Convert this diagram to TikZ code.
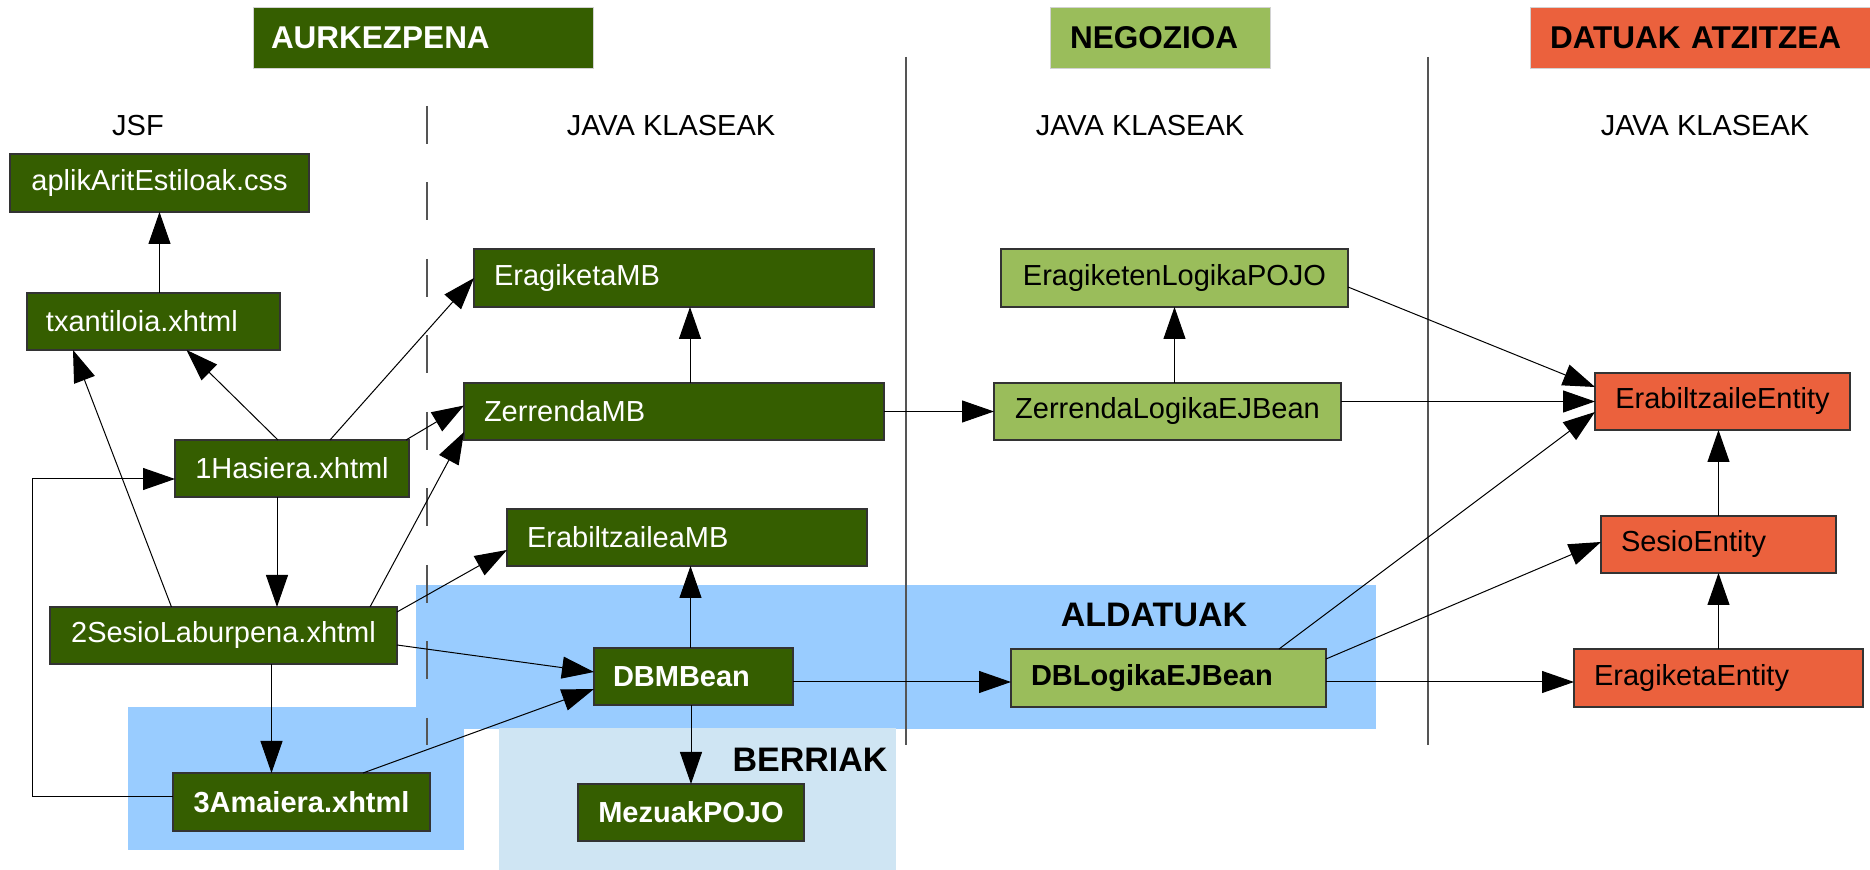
\documentclass[tikz,border=0pt]{standalone}
\usepackage{fontspec}
\setmainfont{Liberation Sans}
\usetikzlibrary{arrows.meta,calc}
\definecolor{dgreen}{HTML}{355E00}
\definecolor{lgreen}{HTML}{9ABD5B}
\definecolor{orng}{HTML}{EB613D}
\definecolor{blueA}{HTML}{99CCFF}
\definecolor{blueL}{HTML}{CFE5F3}
\definecolor{edgegray}{HTML}{333333}
\definecolor{sepgray}{HTML}{555555}
\begin{document}
\begin{tikzpicture}[x=0.5pt,y=-0.5pt,
  every node/.style={inner sep=0pt, outer sep=0pt},
  base/.style={font=\fontsize{14.5}{17}\selectfont, draw=edgegray, line width=0.6pt, anchor=north west, inner ysep=0pt},
  dg/.style={base, fill=dgreen, text=white},
  lg/.style={base, fill=lgreen, text=black},
  og/.style={base, fill=orng, text=black},
  bf/.style={font=\fontsize{14.5}{17}\selectfont\bfseries},
  lt/.style={align=left, text width=#1, inner xsep=10pt},
  ct/.style={align=center, minimum width=#1},
  arr/.style={draw=black, line width=0.5pt, -{Triangle[length=16pt,width=11pt]}},
  sep/.style={draw=sepgray, line width=0.6pt},
  hdr/.style={anchor=north west, minimum height=30.5pt, draw=gray!35, line width=0.4pt, font=\fontsize{15.75}{18}\selectfont\bfseries, align=left, inner xsep=10pt},
  lbl/.style={font=\fontsize{14.5}{17}\selectfont},
  reg/.style={font=\fontsize{17}{20}\selectfont\bfseries},
  ]
\useasboundingbox (0,0) rectangle (1870,870);
% regions
\fill[blueA] (416,585) rectangle (1376,729);
\fill[blueA] (128,707) rectangle (464,850);
\fill[blueL] (499,728) rectangle (896,870);
\node[reg] (aldatuak) at (1154,615) {ALDATUAK};
\node[reg] (berriak) at (810,760) {BERRIAK};
% separators
\draw[sep, dash pattern=on 19pt off 19.25pt] (427,106) -- (427,745);
\draw[sep] (906,57) -- (906,745);
\draw[sep] (1428,57) -- (1428,745);
% headers
\node[hdr, fill=dgreen, text=white, text width=152pt, inner xsep=9pt] (aurk) at (253,7) {AURKEZPENA};
\node[hdr, fill=lgreen, text=black, text width=90pt] (negoz) at (1050,7) {NEGOZIOA};
\node[hdr, fill=orng, text=black, text width=150pt] (datuak) at (1530,7) {\mbox{DATUAK ATZITZEA}};
% column labels
\node[lbl] (jsf) at (138,126) {JSF};
\node[lbl] (jk1) at (671,126) {JAVA KLASEAK};
\node[lbl] (jk2) at (1140,126) {JAVA KLASEAK};
\node[lbl] (jk3) at (1705,126) {JAVA KLASEAK};
% nodes
\node[dg, ct=149.5pt, minimum height=29pt] (aplik) at (10,154) {aplikAritEstiloak.css};
\node[dg, lt=107.5pt, inner xsep=9.5pt, minimum height=28.5pt] (txant) at (27,293) {\mbox{txantiloia.xhtml}};
\node[dg, lt=180pt, minimum height=29pt] (eragMB) at (474,249) {\mbox{EragiketaMB}};
\node[dg, lt=190pt, minimum height=28.5pt] (zerrMB) at (464,383) {\mbox{ZerrendaMB}};
\node[dg, ct=117pt, minimum height=28.5pt] (hasiera) at (175,440) {1Hasiera.xhtml};
\node[dg, lt=160pt, minimum height=28.5pt] (erabMB) at (507,509) {\mbox{ErabiltzaileaMB}};
\node[dg, ct=173.5pt, minimum height=28.5pt] (sesio2) at (50,607) {2SesioLaburpena.xhtml};
\node[dg, bf, lt=80.5pt, inner xsep=9.5pt, minimum height=28.5pt] (dbmb) at (594,648) {\mbox{DBMBean}};
\node[dg, bf, ct=128.5pt, minimum height=29pt] (amaiera) at (173,773) {3Amaiera.xhtml};
\node[dg, bf, ct=113pt, minimum height=28.5pt] (mezuak) at (578,784) {MezuakPOJO};
\node[lg, ct=173.5pt, minimum height=29pt] (eragLog) at (1001,249) {EragiketenLogikaPOJO};
\node[lg, ct=173.5pt, minimum height=28.5pt] (zerrLog) at (994,383) {ZerrendaLogikaEJBean};
\node[lg, bf, lt=137.5pt, minimum height=29pt] (dbLog) at (1011,649) {\mbox{DBLogikaEJBean}};
\node[og, ct=127.5pt, minimum height=28.5pt] (erabEnt) at (1595,373) {ErabiltzaileEntity};
\node[og, lt=97.5pt, minimum height=28.5pt] (sesioEnt) at (1601,516) {\mbox{SesioEntity}};
\node[og, lt=124.5pt, minimum height=29pt] (eragEnt) at (1574,649) {\mbox{EragiketaEntity}};
% helper coordinates
\path ($(eragMB.south)+(16,0)$) coordinate (e1)
      ($(hasiera.south)+(-15,0)$) coordinate (h1)
      ($(sesio2.south)+(48,0)$) coordinate (s1)
      ($(dbmb.north)+(-3,0)$) coordinate (d1)
      ($(dbmb.east)+(0,5.5)$) coordinate (d2)
      ($(dbLog.east)+(0,4)$) coordinate (g1);
% connectors
\draw[arr] (aplik.south |- txant.north) -- (aplik.south);
\draw[arr] ($(hasiera.north)+(-14,0)$) -- ($(txant.south)+(33,0)$);
\draw[arr] ($(hasiera.north)+(38,0)$) -- (eragMB.west);
\draw[arr] ($(hasiera.north east)+(-3,0)$) -- ($(zerrMB.west)+(0,-6)$);
\draw[arr] ($(sesio2.north)+(-52,0)$) -- ($(txant.south west)+(46,0)$);
\draw[arr] ($(sesio2.north east)+(-27,0)$) -- ($(zerrMB.south west)+(0,-8)$);
\draw[arr] ($(sesio2.north east)+(0,5)$) -- ($(erabMB.west)+(0,12.5)$);
\draw[arr] ($(sesio2.east)+(0,9.5)$) -- ($(dbmb.west)+(0,-4.5)$);
\draw[arr] (h1) -- (h1 |- sesio2.north);
\draw[arr] (s1) -- (s1 |- amaiera.north);
\draw[arr] ($(amaiera.west)+(0,-5)$) -- ++(-141,0) |- ($(hasiera.west)+(0,10.5)$);
\draw[arr] ($(amaiera.north)+(61.5,0)$) -- ($(dbmb.west)+(0,12.5)$);
\draw[arr] (d1) -- (d1 |- erabMB.south);
\draw[arr] (mezuak.north |- dbmb.south) -- (mezuak.north);
\draw[arr] (d2) -- (dbLog.west |- d2);
\draw[arr] (e1 |- zerrMB.north) -- (e1);
\draw[arr] (zerrMB.east) -- (zerrLog.west);
\draw[arr] (eragLog.south |- zerrLog.north) -- (eragLog.south);
\draw[arr] (zerrLog.east |- erabEnt.west) -- (erabEnt.west);
\draw[arr] ($(eragLog.east)+(0,9)$) -- ($(erabEnt.west)+(0,-14.5)$);
\draw[arr] ($(dbLog.north)+(110.5,0)$) -- ($(erabEnt.west)+(0,10.5)$);
\draw[arr] ($(dbLog.north east)+(0,10)$) -- ($(sesioEnt.west)+(0,-2.5)$);
\draw[arr] (g1) -- (eragEnt.west |- g1);
\draw[arr] (sesioEnt.north) -- (sesioEnt.north |- erabEnt.south);
\draw[arr] (eragEnt.north) -- (eragEnt.north |- sesioEnt.south);
\end{tikzpicture}
\end{document}
